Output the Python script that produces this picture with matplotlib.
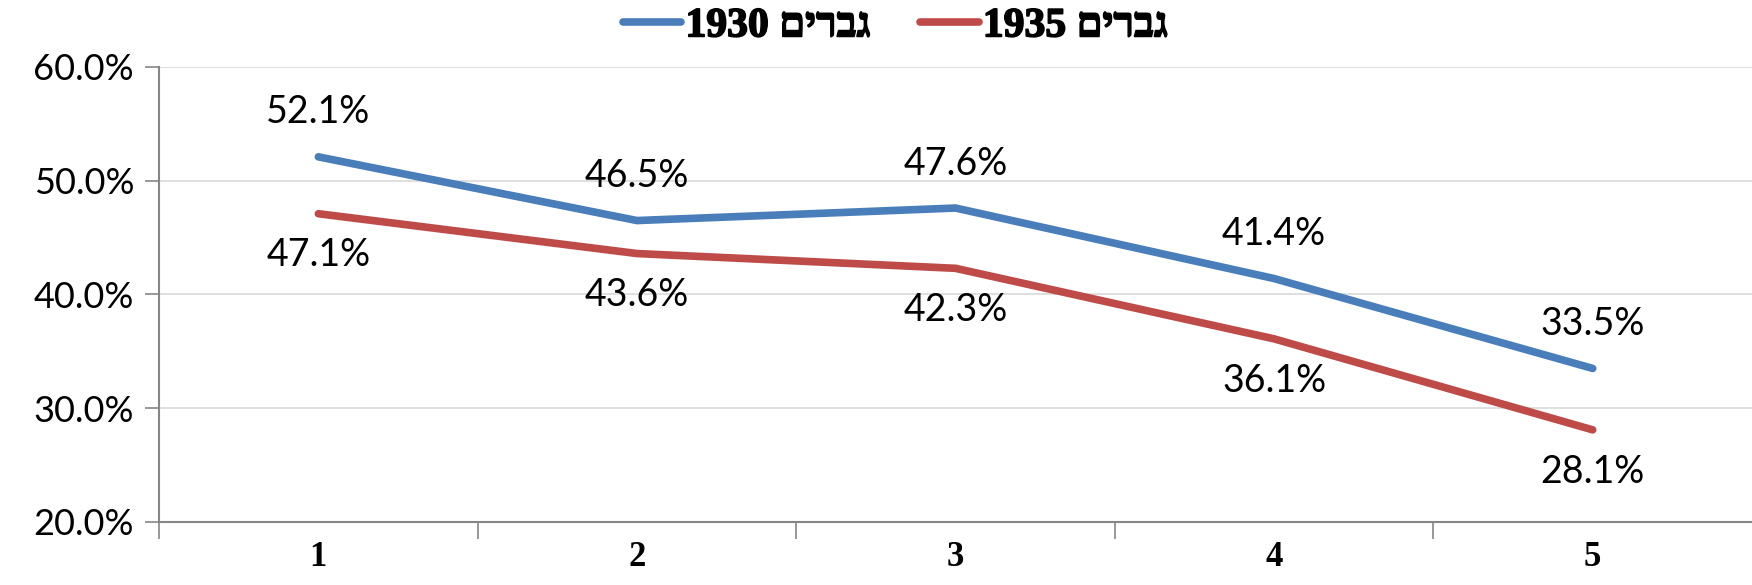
import matplotlib.pyplot as plt
import matplotlib.patheffects as pe
from matplotlib.ticker import PercentFormatter

# ---------------- Dados ----------------
categorias = [1, 2, 3, 4, 5]
homens_1930 = [52.1, 46.5, 47.6, 41.4, 33.5]
homens_1935 = [47.1, 43.6, 42.3, 36.1, 28.1]
# matplotlib nao faz bidi: texto hebraico em ordem visual
rotulos = ["1930 " + "גברים"[::-1], "1935 " + "גברים"[::-1]]

AZUL = "#4A7EBB"
VERMELHO = "#BE4B48"
FONTE = ["Lato", "DejaVu Sans"]
FONTE_NEG = ["Liberation Serif", "DejaVu Sans"]

fig = plt.figure(figsize=(17.52, 5.85), dpi=100)
ax = fig.add_axes([0.0908, 0.1077, 0.9092, 0.7778])

l1, = ax.plot(categorias, homens_1930, color=AZUL, lw=5.5, solid_capstyle="round", label=rotulos[0])
l2, = ax.plot(categorias, homens_1935, color=VERMELHO, lw=5.5, solid_capstyle="round", label=rotulos[1])

for x, v in zip(categorias, homens_1930):
    ax.annotate(f"{v:.1f}%", (x, v), xytext=(0, 32), textcoords="offset points",
                ha="center", va="center", fontsize=27, family=FONTE)
for x, v in zip(categorias, homens_1935):
    ax.annotate(f"{v:.1f}%", (x, v), xytext=(0, -30), textcoords="offset points",
                ha="center", va="center", fontsize=27, family=FONTE)

ax.set_xlim(0.5, 5.5)
ax.set_ylim(20, 60)
ax.set_yticks([20, 30, 40, 50, 60])
ax.yaxis.set_major_formatter(PercentFormatter(decimals=1))
ax.set_xticks([0.5, 1.5, 2.5, 3.5, 4.5])
ax.set_xticks(categorias, minor=True)
ax.set_xticklabels([])
ax.set_xticklabels([str(c) for c in categorias], minor=True)
ax.tick_params(axis="x", which="minor", length=0, pad=14)
ax.tick_params(axis="x", which="major", length=12, color="#868686", width=1.2)
ax.tick_params(axis="y", length=10, color="#868686", width=1.2, pad=8)
for lab in ax.get_yticklabels():
    lab.set_fontsize(26)
    lab.set_family(FONTE)
for lab in ax.get_xticklabels(minor=True):
    lab.set_fontsize(25)
    lab.set_family(FONTE_NEG)
    lab.set_fontweight("bold")

ax.grid(axis="y", color="#D9D9D9", lw=1.2)
ax.set_axisbelow(True)
for s in ["top", "right"]:
    ax.spines[s].set_visible(False)
for s in ["left", "bottom"]:
    ax.spines[s].set_color("#868686")
    ax.spines[s].set_linewidth(1.5)

leg = fig.legend(handles=[l1, l2], loc="center", bbox_to_anchor=(0.511, 0.955), ncol=2,
                 frameon=False, handlelength=1.4, handletextpad=0.1, columnspacing=1.2,
                 prop={"family": FONTE_NEG, "weight": "bold", "size": 30})
# texto hebraico sai fino no fallback, engrossa com contorno
for t in leg.get_texts():
    t.set_path_effects([pe.withStroke(linewidth=1.2, foreground="black")])

fig.savefig("out.png", dpi=100)
